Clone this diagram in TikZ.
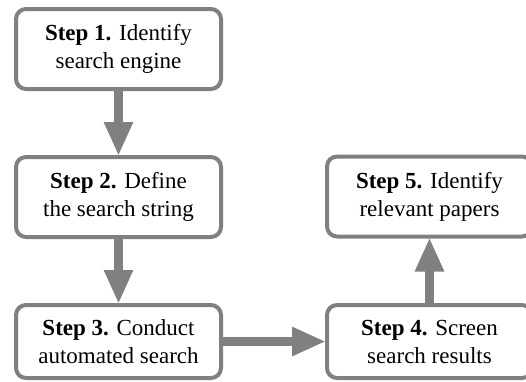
\documentclass[tikz,border=0pt]{standalone}
\usepackage{fontspec}
\setmainfont{Liberation Serif}
\usetikzlibrary{arrows.meta}
\definecolor{edgegray}{RGB}{128,128,128}
\tikzset{
  stepbox/.style={draw=edgegray, line width=4pt, rounded corners=10pt,
    fill=white, minimum width=205pt, minimum height=80pt, inner sep=0pt,
    align=center, font=\fontsize{23}{28}\selectfont},
  shortbox/.style={stepbox, minimum height=73pt},
  flow/.style={draw=edgegray, line width=8.5pt,
    -{Triangle[width=27pt,length=34pt]}, shorten >=-1pt}
}
\begin{document}
\begin{tikzpicture}[x=1pt,y=-1pt]
\useasboundingbox (0,0) rectangle (526,381);
\clip (0,0) rectangle (526,381);
\node[stepbox] (s1) at (118.5,49) {\textbf{Step 1.} Identify\\search engine};
\node[stepbox] (s2) at (118.5,197) {\textbf{Step 2.} Define\\the search string};
\node[shortbox] (s3) at (118.5,341.5) {\textbf{Step 3.} Conduct\\automated search};
\node[shortbox] (s4) at (429.5,341.5) {\textbf{Step 4.} Screen\\search results};
\node[stepbox] (s5) at (429.5,196.5) {\textbf{Step 5.} Identify\\relevant papers};
\draw[flow] (s1.south) -- (s2.north);
\draw[flow] (s2.south) -- (s3.north);
\draw[flow] (s3.east) -- (s4.west);
\draw[flow] (s4.north) -- (s5.south);
\end{tikzpicture}
\end{document}
